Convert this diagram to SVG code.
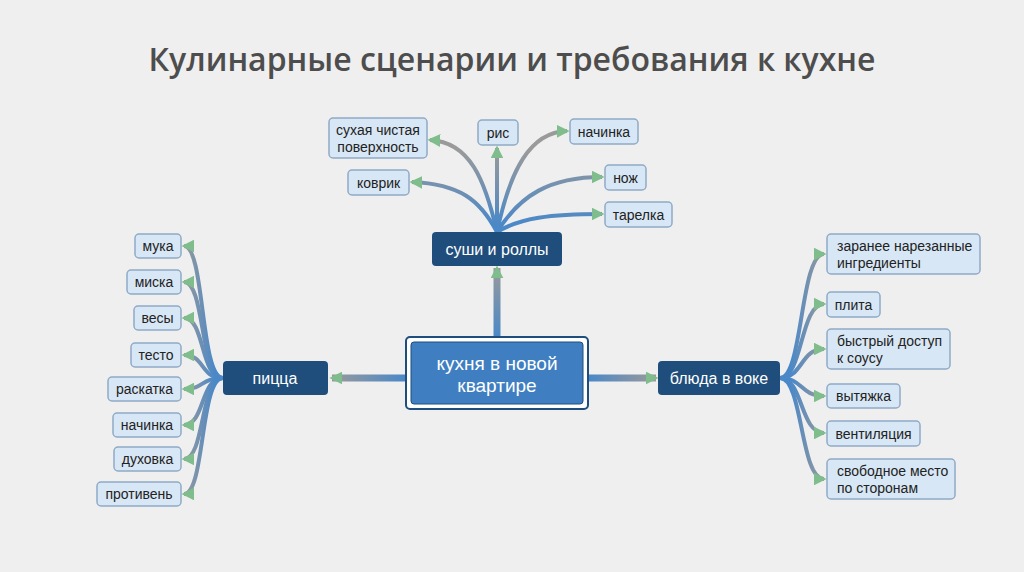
<svg xmlns="http://www.w3.org/2000/svg" width="1024" height="572" viewBox="0 0 1024 572">
<style>
.t{font-family:"Liberation Sans","Noto Sans",sans-serif;text-anchor:middle;dominant-baseline:central}
.leaf rect{fill:#d8e7f5;stroke:#8fabc6;stroke-width:1.5}
.leaf text{fill:#222;font-size:14px}
.mid rect{fill:#1f4e7c}
.mid text{fill:#fff;font-size:16px}
.e{fill:none;stroke-width:4;marker-end:url(#ah)}
.m{fill:none;stroke-width:7;marker-end:url(#ahm)}
.l{text-anchor:start}
</style>
<defs>
<marker id="ah" viewBox="0 0 10 10" refX="8" refY="5" markerWidth="3.2" markerHeight="3.2" orient="auto" markerUnits="strokeWidth"><path d="M0,0L10,5L0,10z" fill="#7fbd8c"/></marker>
<marker id="ahm" viewBox="0 0 10 10" refX="8" refY="5" markerWidth="13" markerHeight="13" orient="auto" markerUnits="userSpaceOnUse"><path d="M0,0L10,5L0,10z" fill="#7fbd8c"/></marker>
<linearGradient id="gl" gradientUnits="userSpaceOnUse" x1="215" y1="0" x2="183" y2="0"><stop offset="0" stop-color="#4a88c8"/><stop offset="1" stop-color="#9a9a9a"/></linearGradient>
<linearGradient id="gr" gradientUnits="userSpaceOnUse" x1="790" y1="0" x2="825" y2="0"><stop offset="0" stop-color="#4a88c8"/><stop offset="1" stop-color="#9a9a9a"/></linearGradient>
<linearGradient id="gu" gradientUnits="userSpaceOnUse" x1="0" y1="225" x2="0" y2="150"><stop offset="0" stop-color="#4a88c8"/><stop offset="1" stop-color="#9a9a9a"/></linearGradient>
<linearGradient id="gml" gradientUnits="userSpaceOnUse" x1="406" y1="0" x2="330" y2="0"><stop offset="0" stop-color="#4a88c8"/><stop offset="1" stop-color="#9a9a9a"/></linearGradient>
<linearGradient id="gmr" gradientUnits="userSpaceOnUse" x1="588" y1="0" x2="656" y2="0"><stop offset="0" stop-color="#4a88c8"/><stop offset="1" stop-color="#9a9a9a"/></linearGradient>
<linearGradient id="gmu" gradientUnits="userSpaceOnUse" x1="0" y1="337" x2="0" y2="268"><stop offset="0" stop-color="#4a88c8"/><stop offset="1" stop-color="#9a9a9a"/></linearGradient>
</defs>
<rect width="1024" height="572" fill="#efefef"/>
<text class="t" x="512" y="58" font-size="32" font-weight="600" fill="#4d4d4d" style="font-family:'Open Sans','Liberation Sans',sans-serif">Кулинарные сценарии и требования к кухне</text>
<g id="connectors">
<path class="m" stroke="url(#gml)" d="M406,378H332"/>
<path class="m" stroke="url(#gmr)" d="M588,378H656"/>
<path class="m" stroke="url(#gmu)" d="M497,337V268"/>
<g stroke="url(#gl)">
<path class="e" d="M223,378C200,378 205,246 184,246"/>
<path class="e" d="M223,378C200,378 205,282 184,282"/>
<path class="e" d="M223,378C200,378 205,318 184,318"/>
<path class="e" d="M223,378C200,378 205,355 184,355"/>
<path class="e" d="M223,378C200,378 205,389 184,389"/>
<path class="e" d="M223,378C200,378 205,425 184,425"/>
<path class="e" d="M223,378C200,378 205,459 184,459"/>
<path class="e" d="M223,378C200,378 205,494 184,494"/>
</g>
<g stroke="url(#gr)">
<path class="e" d="M780,378C803,378 800,254 824,254"/>
<path class="e" d="M780,378C803,378 800,304 824,304"/>
<path class="e" d="M780,378C803,378 800,349 824,349"/>
<path class="e" d="M780,378C803,378 800,396 824,396"/>
<path class="e" d="M780,378C803,378 800,433 824,433"/>
<path class="e" d="M780,378C803,378 800,479 824,479"/>
</g>
<g stroke="url(#gu)">
<path class="e" d="M497,232C485,180 470,142 430,140"/>
<path class="e" d="M497,232V148"/>
<path class="e" d="M497,232C510,170 530,132 567,131"/>
<path class="e" d="M497,232C480,200 460,184 412,182"/>
<path class="e" d="M497,232C520,195 550,177 602,177"/>
<path class="e" d="M497,232C520,218 550,214 602,214"/>
</g>
</g>
<g id="center"><rect x="406" y="337" width="182" height="72" rx="4" fill="#fff" stroke="#1f4e7c" stroke-width="2"/><rect x="411" y="342" width="172" height="62" rx="3" fill="#3f7fc1" stroke="#1f4e7c" stroke-width="1"/><text class="t" x="497" y="363" font-size="19" fill="#fff">кухня в новой</text><text class="t" x="497" y="385" font-size="19" fill="#fff">квартире</text></g>
<g id="pizza" class="mid"><rect x="223" y="361" width="105" height="34" rx="4"/><text class="t" x="275" y="378">пицца</text></g>
<g id="sushi" class="mid"><rect x="432" y="232" width="130" height="34" rx="4"/><text class="t" x="497" y="249">суши и роллы</text></g>
<g id="wok" class="mid"><rect x="658" y="361" width="122" height="34" rx="4"/><text class="t" x="719" y="378">блюда в воке</text></g>
<g class="leaf">
<g id="p1"><rect x="135" y="234" width="46" height="24" rx="4"/><text class="t" x="158" y="246">мука</text></g>
<g id="p2"><rect x="127" y="270" width="54" height="24" rx="4"/><text class="t" x="154" y="282">миска</text></g>
<g id="p3"><rect x="134" y="306" width="47" height="24" rx="4"/><text class="t" x="157.5" y="318">весы</text></g>
<g id="p4"><rect x="131" y="343" width="50" height="24" rx="4"/><text class="t" x="156" y="355">тесто</text></g>
<g id="p5"><rect x="108" y="377" width="73" height="24" rx="4"/><text class="t" x="144.5" y="389">раскатка</text></g>
<g id="p6"><rect x="113" y="413" width="68" height="24" rx="4"/><text class="t" x="147" y="425">начинка</text></g>
<g id="p7"><rect x="114" y="447" width="67" height="24" rx="4"/><text class="t" x="147.5" y="459">духовка</text></g>
<g id="p8"><rect x="97" y="482" width="84" height="24" rx="4"/><text class="t" x="139" y="494">противень</text></g>
<g id="s1"><rect x="329" y="118" width="98" height="40" rx="4"/><text class="t" x="378" y="130">сухая чистая</text><text class="t" x="378" y="147">поверхность</text></g>
<g id="s2"><rect x="478" y="120" width="40" height="25" rx="4"/><text class="t" x="498" y="132.5">рис</text></g>
<g id="s3"><rect x="570" y="119" width="68" height="25" rx="4"/><text class="t" x="604" y="131.5">начинка</text></g>
<g id="s4"><rect x="348" y="170" width="61" height="25" rx="4"/><text class="t" x="378.5" y="182.5">коврик</text></g>
<g id="s5"><rect x="605" y="165" width="41" height="25" rx="4"/><text class="t" x="625.5" y="177.5">нож</text></g>
<g id="s6"><rect x="605" y="202" width="67" height="25" rx="4"/><text class="t" x="638.5" y="214.5">тарелка</text></g>
<g id="w1"><rect x="827" y="234" width="153" height="40" rx="4"/><text class="t l" x="837" y="246">заранее нарезанные</text><text class="t l" x="837" y="263">ингредиенты</text></g>
<g id="w2"><rect x="827" y="292" width="53" height="25" rx="4"/><text class="t" x="853.5" y="304.5">плита</text></g>
<g id="w3"><rect x="827" y="329" width="123" height="40" rx="4"/><text class="t l" x="837" y="341">быстрый доступ</text><text class="t l" x="837" y="358">к соусу</text></g>
<g id="w4"><rect x="827" y="384" width="73" height="24" rx="4"/><text class="t" x="863.5" y="396">вытяжка</text></g>
<g id="w5"><rect x="827" y="421" width="93" height="25" rx="4"/><text class="t" x="873.5" y="433.5">вентиляция</text></g>
<g id="w6"><rect x="827" y="459" width="128" height="40" rx="4"/><text class="t l" x="837" y="471">свободное место</text><text class="t l" x="837" y="488">по сторонам</text></g>
</g>
</svg>
